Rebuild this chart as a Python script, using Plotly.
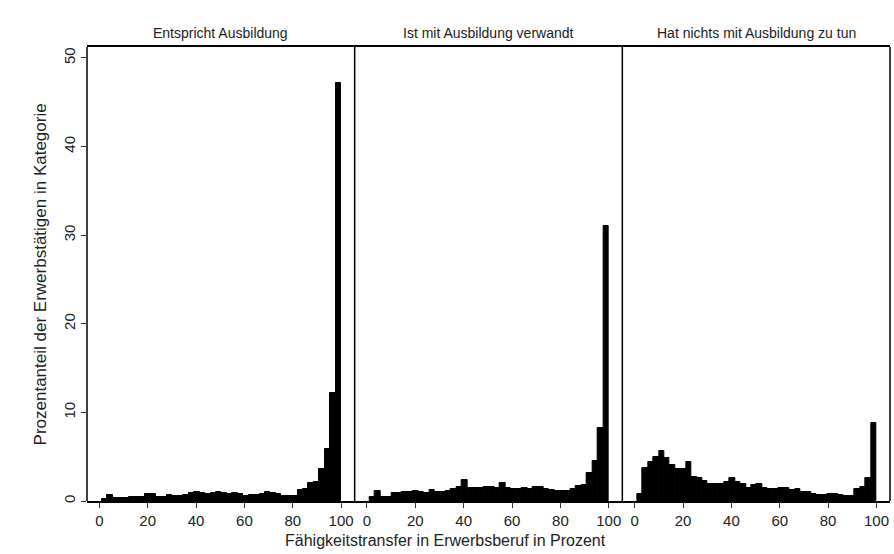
import plotly.graph_objects as go

# Histogram layout: 44 equal bins starting at 1 and ending at 100
bin_start = 1.0
bin_width = 2.25
n_bins = 44

panel_titles = [
    "Entspricht Ausbildung",
    "Ist mit Ausbildung verwandt",
    "Hat nichts mit Ausbildung zu tun",
]

# Percent of employed persons per bin, one list per category
pct_entspricht = [
    0.2, 0.7, 0.3, 0.3, 0.35, 0.45, 0.45, 0.4, 0.75, 0.8,
    0.5, 0.45, 0.7, 0.55, 0.6, 0.7, 0.9, 1.0, 0.9, 0.75,
    0.9, 1.0, 0.9, 0.75, 0.9, 0.75, 0.6, 0.65, 0.7, 0.8,
    1.0, 0.95, 0.75, 0.6, 0.55, 0.6, 1.2, 1.3, 2.0, 2.2,
    3.6, 5.9, 12.2, 47.2,
]
pct_verwandt = [
    0.5, 1.15, 0.5, 0.5, 0.95, 0.95, 1.0, 1.0, 1.1, 1.0,
    0.95, 1.25, 1.0, 1.05, 1.15, 1.3, 1.6, 2.35, 1.5, 1.5,
    1.5, 1.6, 1.6, 1.5, 2.0, 1.5, 1.4, 1.4, 1.5, 1.4,
    1.6, 1.6, 1.3, 1.2, 1.15, 1.1, 1.15, 1.3, 1.7, 1.8,
    3.2, 4.5, 8.2, 31.0,
]
pct_nichts = [
    0.75, 3.75, 4.4, 5.0, 5.6, 4.8, 4.1, 3.6, 3.6, 4.4,
    2.7, 2.6, 2.3, 1.95, 1.95, 1.9, 2.2, 2.6, 2.2, 1.9,
    1.5, 1.8, 1.9, 1.5, 1.3, 1.3, 1.5, 1.45, 1.2, 1.3,
    1.05, 1.05, 0.8, 0.7, 0.7, 0.75, 0.8, 0.7, 0.6, 0.55,
    1.3, 1.6, 2.55, 8.75,
]
series = [pct_entspricht, pct_verwandt, pct_nichts]

x_ticks = [0, 20, 40, 60, 80, 100]
y_ticks = [0, 10, 20, 30, 40, 50]

bin_centers = [bin_start + bin_width * (i + 0.5) for i in range(n_bins)]

FONT = "Liberation Sans, Arial, Helvetica, sans-serif"
TXT = "#222222"

fig = go.Figure()
for i, vals in enumerate(series):
    suffix = "" if i == 0 else str(i + 1)
    fig.add_trace(go.Bar(
        x=bin_centers,
        y=vals,
        width=bin_width,
        marker=dict(color="black", line=dict(color="black", width=1)),
        xaxis="x" + suffix,
        yaxis="y" + suffix,
        showlegend=False,
        hoverinfo="x+y",
    ))

layout = dict(
    width=894,
    height=554,
    margin=dict(l=87, r=4, t=47, b=53),
    paper_bgcolor="white",
    plot_bgcolor="white",
    bargap=0,
    font=dict(family=FONT, color=TXT),
    showlegend=False,
)

domains = [[0.0, 1 / 3], [1 / 3, 2 / 3], [2 / 3, 1.0]]
for i in range(3):
    suffix = "" if i == 0 else str(i + 1)
    layout["xaxis" + suffix] = dict(
        domain=domains[i],
        range=[-5.1, 105.6],
        anchor="y" + suffix,
        tickvals=x_ticks,
        ticks="outside",
        ticklen=5,
        tickwidth=1,
        tickcolor="#333",
        tickfont=dict(size=15, color=TXT),
        showline=True,
        linecolor="black",
        linewidth=1.5,
        mirror=True,
        showgrid=False,
        zeroline=False,
        fixedrange=True,
    )
    layout["yaxis" + suffix] = dict(
        domain=[0, 1],
        range=[0, 51.24],
        anchor="x" + suffix,
        tickvals=y_ticks,
        ticks="outside" if i == 0 else "",
        ticklen=5,
        tickwidth=1,
        tickcolor="#333",
        showticklabels=(i == 0),
        tickangle=-90,
        tickfont=dict(size=15, color=TXT),
        showline=False,
        showgrid=False,
        zeroline=False,
        fixedrange=True,
    )

fig.update_layout(**layout)

# Single vertical frame lines: left edge, the two panel separators, right edge
frame_lines = []
for xpos in [0.0, 1 / 3, 2 / 3, 1.0]:
    frame_lines.append(dict(
        type="line", xref="paper", yref="paper",
        x0=xpos, x1=xpos, y0=0, y1=1,
        line=dict(color="black", width=1.5),
        layer="above",
    ))
fig.update_layout(shapes=frame_lines)

annotations = []
for i, title in enumerate(panel_titles):
    d0, d1 = domains[i]
    annotations.append(dict(
        text=title, xref="paper", yref="paper",
        x=(d0 + d1) / 2, y=1.0, yshift=4,
        xanchor="center", yanchor="bottom",
        showarrow=False, font=dict(size=14, color=TXT, family=FONT),
    ))

annotations.append(dict(
    text="Fähigkeitstransfer in Erwerbsberuf in Prozent",
    xref="paper", yref="paper", x=0.446, y=-0.086,
    xanchor="center", yanchor="middle", showarrow=False,
    font=dict(size=16, color=TXT, family=FONT),
))
annotations.append(dict(
    text="Prozentanteil der Erwerbstätigen in Kategorie",
    xref="paper", yref="paper", x=-0.058, y=0.5,
    xanchor="center", yanchor="middle", textangle=-90, showarrow=False,
    font=dict(size=17, color=TXT, family=FONT),
))
fig.update_layout(annotations=annotations)

fig.write_html("out.html")
